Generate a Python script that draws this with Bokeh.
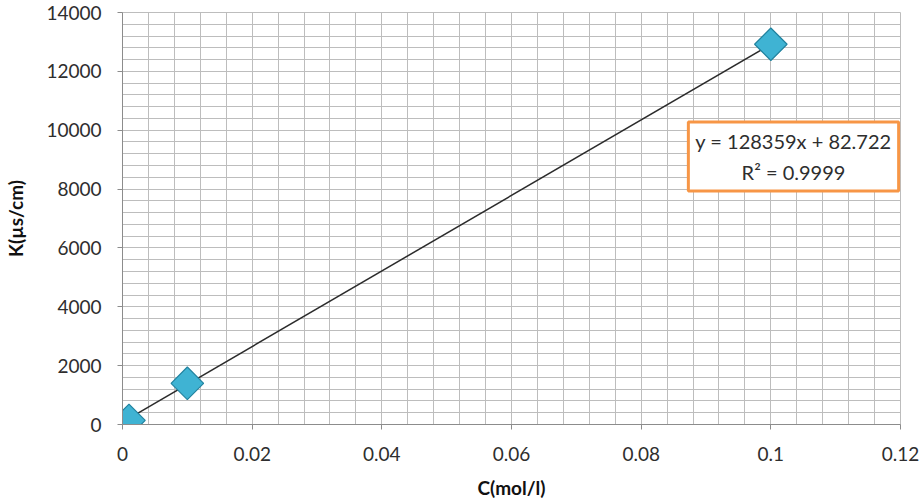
import numpy as np
from bokeh.plotting import figure
from bokeh.models import Range1d, FixedTicker, Label
from bokeh.embed import file_html
from bokeh.resources import INLINE

# Measured conductivity vs concentration
conc = [0.001, 0.01, 0.1]          # C (mol/l)
kappa = [140, 1400, 12920]         # K (µs/cm)

# Linear trendline reported for the series
slope = 128359
intercept = 82.722
r_squared = 0.9999

x_ticks = [0, 0.02, 0.04, 0.06, 0.08, 0.1, 0.12]
x_tick_labels = ["0", "0.02", "0.04", "0.06", "0.08", "0.1", "0.12"]
y_ticks = [0, 2000, 4000, 6000, 8000, 10000, 12000, 14000]

FONT = "Lato"
GRID = "#bdbdbd"
TEXT = "#2e2e2e"

p = figure(width=923, height=503, output_backend="svg", toolbar_location=None,
           x_range=Range1d(0, 0.12), y_range=Range1d(0, 14000),
           min_border_left=122, min_border_right=23, min_border_top=12, min_border_bottom=79)
p.background_fill_color = "white"
p.border_fill_color = "white"
p.outline_line_color = GRID
p.outline_line_width = 1

# grid: major + minor lines with the same light gray
p.xaxis.ticker = FixedTicker(ticks=x_ticks, minor_ticks=list(np.round(np.arange(0, 0.1201, 0.004), 4)))
p.yaxis.ticker = FixedTicker(ticks=y_ticks, minor_ticks=list(range(0, 14001, 400)))
p.xaxis.major_label_overrides = {t: s for t, s in zip(x_ticks, x_tick_labels)}
for g in (p.xgrid, p.ygrid):
    g.grid_line_color = GRID
    g.grid_line_width = 1
    g.minor_grid_line_color = GRID
    g.minor_grid_line_width = 1

for ax in (p.xaxis, p.yaxis):
    ax.axis_line_color = "#8c8c8c"
    ax.major_tick_line_color = "#8c8c8c"
    ax.major_tick_out = 5
    ax.major_tick_in = 0
    ax.minor_tick_line_color = None
    ax.major_label_text_font = FONT
    ax.major_label_text_font_size = "19px"
    ax.major_label_text_color = TEXT
    ax.axis_label_text_font = FONT
    ax.axis_label_text_font_style = "bold"
    ax.axis_label_text_font_size = "19px"
    ax.axis_label_text_color = "#111111"

p.xaxis.axis_label = "C(mol/l)"
p.yaxis.axis_label = "K(µs/cm)"
p.xaxis.major_label_standoff = 17
p.yaxis.major_label_standoff = 16
p.xaxis.axis_label_standoff = 12
p.yaxis.axis_label_standoff = 16
p.yaxis.formatter.use_scientific = False

# trendline over the data range
xt = np.array([min(conc), max(conc)])
p.line(xt, slope * xt + intercept, line_color="#2b2b2b", line_width=1.5)

# diamond markers (rotated squares)
p.scatter(conc, kappa, marker="square", angle=np.pi / 4, size=23,
          fill_color="#3fb3d3", line_color="#22839f", line_width=1.2)

eq = Label(x=671, y=268, x_units="screen", y_units="screen",
           text=f"y = {slope}x + {intercept}\nR² = {r_squared}",
           text_align="center", text_baseline="middle",
           text_font=FONT, text_font_size="20px", text_color=TEXT,
           text_line_height=1.3,
           background_fill_color="white", border_line_color="#f79646",
           border_line_width=3, padding=7)
p.add_layout(eq)

open("out.html", "w").write(file_html(p, INLINE))
